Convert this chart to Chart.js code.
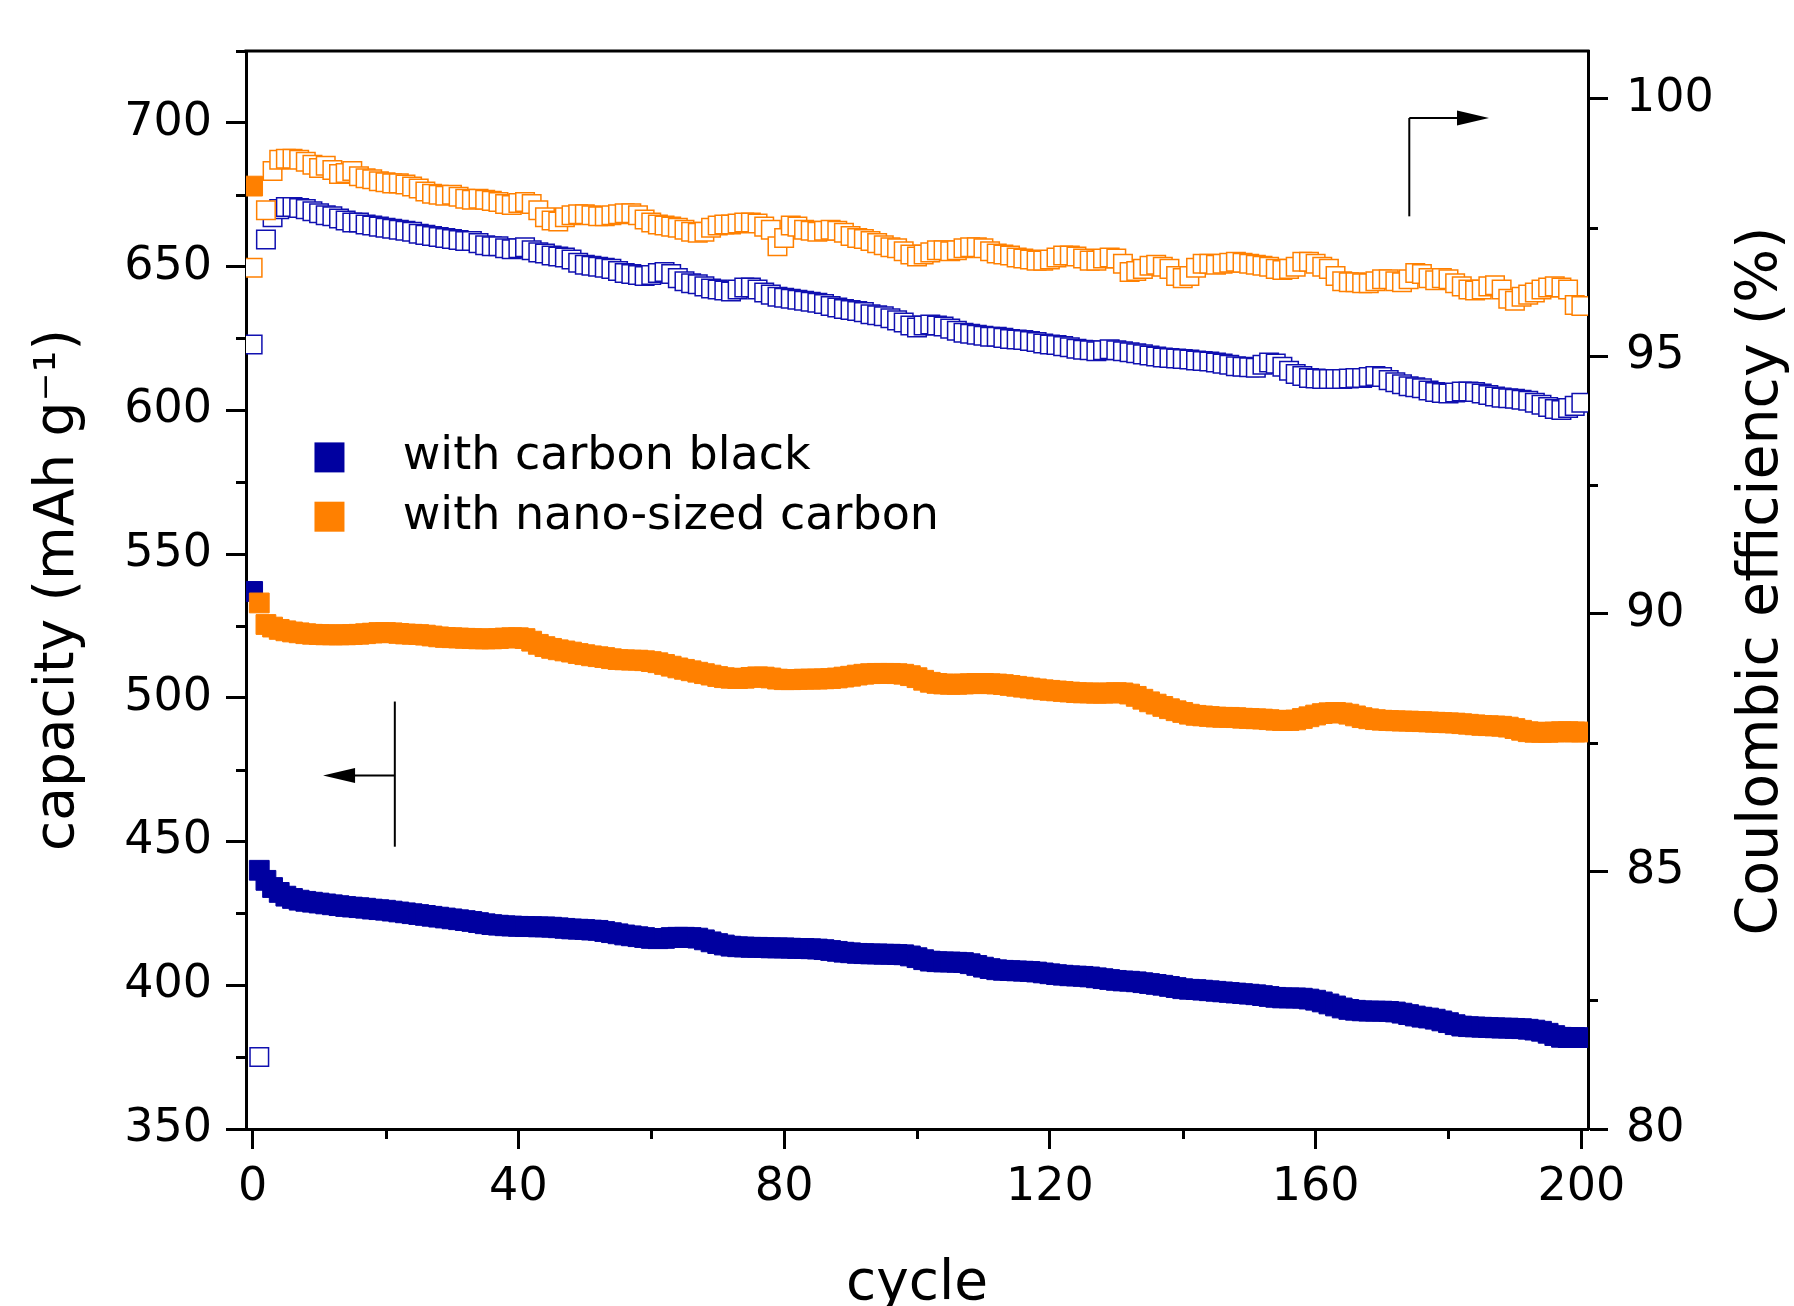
<!DOCTYPE html>
<html>
<head>
<meta charset="utf-8">
<title>capacity and coulombic efficiency vs cycle</title>
<script src="https://cdn.jsdelivr.net/npm/chart.js@4.4.1/dist/chart.umd.min.js"></script>
<style>
  html, body { margin: 0; padding: 0; background: #fff; overflow: hidden; }
  #chart { display: block; }
</style>
</head>
<body>
<canvas id="chart" width="1794" height="1306"></canvas>
<script>
// capacity (mAh/g) per cycle, index = cycle number
const capBlack = [
  537, 440, 436.5, 434, 432.3, 431, 430.2, 429.6, 429.2, 428.9,
  428.6, 428.3, 428, 427.7, 427.4, 427.2, 427, 426.8, 426.5, 426.3,
  426.1, 425.8, 425.5, 425.2, 424.9, 424.6, 424.3, 424, 423.7, 423.4,
  423.1, 422.8, 422.5, 422.2, 421.8, 421.4, 421.1, 420.9, 420.7, 420.6,
  420.5, 420.4, 420.4, 420.3, 420.3, 420.2, 420, 419.8, 419.6, 419.5,
  419.4, 419.2, 419.1, 418.7, 418.3, 417.9, 417.5, 417.2, 416.9, 416.6,
  416.3, 416.2, 416.3, 416.6, 416.7, 416.7, 416.6, 416.4, 415.8, 415.1,
  414.5, 414, 413.6, 413.4, 413.3, 413.2, 413.2, 413.1, 413, 413,
  413, 412.9, 412.8, 412.8, 412.7, 412.6, 412.4, 412.1, 411.8, 411.5,
  411.3, 411.1, 411, 410.9, 410.9, 410.8, 410.8, 410.7, 410.6, 410.2,
  409.6, 408.9, 408.4, 408.2, 408.1, 408.1, 408, 407.9, 407.5, 406.9,
  406.3, 405.8, 405.4, 405.2, 405.1, 405, 404.9, 404.8, 404.6, 404.3,
  404, 403.7, 403.5, 403.3, 403.2, 403.1, 402.9, 402.6, 402.3, 402,
  401.7, 401.5, 401.4, 401.2, 400.9, 400.6, 400.3, 400, 399.6, 399.2,
  398.8, 398.6, 398.5, 398.3, 398.1, 397.9, 397.7, 397.5, 397.3, 397.1,
  396.9, 396.7, 396.4, 396.1, 395.8, 395.6, 395.6, 395.6, 395.5, 395.2,
  394.8, 394.2, 393.5, 392.8, 392.1, 391.6, 391.3, 391.1, 391, 391,
  391, 390.9, 390.7, 390.3, 389.8, 389.3, 388.9, 388.6, 388.2, 387.6,
  387, 386.3, 385.8, 385.6, 385.5, 385.4, 385.3, 385.2, 385.1, 385.1,
  385, 384.9, 384.7, 384.4, 384, 383.3, 382.5, 381.9, 381.8, 381.8,
  381.8
];
const capNano = [
  678, 533, 525.5, 524.6, 523.8, 523.3, 522.9, 522.6, 522.3, 522.1,
  522, 521.9, 521.9, 521.9, 521.9, 522, 522.1, 522.3, 522.5, 522.7,
  522.7, 522.6, 522.4, 522.2, 522.1, 522, 521.8, 521.5, 521.2, 521,
  520.9, 520.8, 520.7, 520.6, 520.5, 520.5, 520.5, 520.6, 520.8, 520.9,
  520.9, 520.6, 519.7, 518.6, 517.8, 517.2, 516.7, 516.3, 515.9, 515.4,
  515, 514.6, 514.3, 514, 513.6, 513.3, 513.2, 513.1, 513.1, 512.9,
  512.6, 512.2, 511.6, 511, 510.4, 509.9, 509.4, 508.9, 508.4, 507.9,
  507.4, 507, 506.8, 506.7, 506.8, 507.1, 507.3, 507.2, 506.9, 506.5,
  506.3, 506.3, 506.4, 506.5, 506.5, 506.5, 506.6, 506.7, 506.9, 507.2,
  507.5, 507.9, 508.2, 508.4, 508.5, 508.5, 508.5, 508.4, 508.2, 507.7,
  507, 506.1, 505.4, 505, 504.8, 504.7, 504.7, 504.8, 504.9, 505,
  505, 504.9, 504.8, 504.6, 504.3, 504, 503.7, 503.4, 503.1, 502.8,
  502.6, 502.4, 502.2, 502, 501.8, 501.7, 501.7, 501.6, 501.6, 501.7,
  501.8, 501.7, 501.3, 500.5, 499.5, 498.6, 497.8, 497, 496.2, 495.5,
  494.9, 494.3, 493.9, 493.7, 493.5, 493.3, 493.2, 493.2, 493.1, 492.9,
  492.8, 492.7, 492.6, 492.4, 492.2, 492.1, 492.1, 492.3, 492.8, 493.4,
  494, 494.5, 494.8, 494.9, 494.7, 494.3, 493.7, 493.1, 492.7, 492.4,
  492.2, 492.1, 492, 491.9, 491.9, 491.8, 491.7, 491.6, 491.5, 491.4,
  491.3, 491.2, 491, 490.8, 490.6, 490.4, 490.3, 490.2, 490.1, 489.8,
  489.3, 488.7, 488.2, 488, 488, 488, 488.1, 488.2, 488.2, 488.1,
  488.1
];

// coulombic efficiency (%) per cycle
const ceBlack = [
  95.23, 81.4, 97.27, 97.7, 97.86, 97.9, 97.9, 97.88, 97.86, 97.82,
  97.78, 97.74, 97.72, 97.68, 97.64, 97.6, 97.6, 97.56, 97.54, 97.52,
  97.5, 97.48, 97.46, 97.44, 97.42, 97.38, 97.36, 97.34, 97.32, 97.3,
  97.28, 97.26, 97.24, 97.24, 97.2, 97.16, 97.14, 97.14, 97.1, 97.08,
  97.1, 97.12, 97.06, 97.02, 97.0, 96.96, 96.94, 96.92, 96.88, 96.82,
  96.78, 96.76, 96.74, 96.72, 96.7, 96.66, 96.62, 96.6, 96.58, 96.56,
  96.58, 96.62, 96.64, 96.6, 96.52, 96.46, 96.42, 96.4, 96.36, 96.32,
  96.3, 96.28, 96.26, 96.3, 96.34, 96.34, 96.3, 96.24, 96.2, 96.16,
  96.14, 96.12, 96.1, 96.08, 96.06, 96.04, 96.02, 95.98, 95.95, 95.92,
  95.9, 95.88, 95.86, 95.82, 95.8, 95.78, 95.74, 95.7, 95.66, 95.6,
  95.56, 95.6, 95.62, 95.6, 95.58, 95.54, 95.5, 95.46, 95.44, 95.42,
  95.4, 95.38, 95.38, 95.36, 95.34, 95.33, 95.32, 95.3, 95.28, 95.25,
  95.23, 95.22, 95.2, 95.18, 95.15, 95.13, 95.12, 95.1, 95.12, 95.14,
  95.12, 95.1, 95.08, 95.06, 95.04, 95.02, 95.0, 94.98, 94.97, 94.96,
  94.95, 94.94, 94.92, 94.91, 94.9, 94.88, 94.86, 94.84, 94.81, 94.8,
  94.79, 94.78, 94.84, 94.88, 94.86, 94.8, 94.72, 94.66, 94.62, 94.58,
  94.57, 94.56, 94.56, 94.56, 94.56, 94.57, 94.58, 94.58, 94.6, 94.62,
  94.6, 94.54, 94.5, 94.46, 94.42, 94.4, 94.38, 94.34, 94.31, 94.29,
  94.28, 94.3, 94.32, 94.32, 94.31, 94.28, 94.25, 94.22, 94.2, 94.19,
  94.18, 94.16, 94.14, 94.1, 94.06, 94.02, 93.98, 93.96, 94.0, 94.04,
  94.1
];
const ceNano = [
  96.72, null, 97.84, 98.6, 98.82, 98.84, 98.84, 98.82, 98.78, 98.72,
  98.66, 98.7, 98.62, 98.54, 98.56, 98.6, 98.5, 98.46, 98.44, 98.4,
  98.38, 98.36, 98.36, 98.34, 98.3, 98.26, 98.2, 98.16, 98.14, 98.12,
  98.14, 98.1, 98.06, 98.04, 98.06, 98.04, 98.02, 98.0, 97.96, 97.94,
  97.98, 98.0, 97.96, 97.84, 97.7, 97.64, 97.62, 97.7, 97.74, 97.76,
  97.76, 97.74, 97.72, 97.72, 97.74, 97.76, 97.78, 97.78, 97.74, 97.66,
  97.6, 97.56, 97.54, 97.52, 97.5, 97.46, 97.42, 97.4, 97.42, 97.5,
  97.54, 97.56, 97.56, 97.58, 97.6, 97.6, 97.58, 97.52, 97.46, 97.14,
  97.3, 97.54, 97.52, 97.46, 97.44, 97.42, 97.44, 97.46, 97.44, 97.4,
  97.34, 97.3, 97.28, 97.24, 97.2, 97.16, 97.12, 97.1, 97.04, 96.98,
  96.94, 96.98, 97.02, 97.06, 97.06, 97.04, 97.06, 97.1, 97.12, 97.12,
  97.1, 97.04, 97.0, 96.98, 96.96, 96.92, 96.9, 96.88, 96.86, 96.86,
  96.88, 96.92, 96.96, 96.96, 96.94, 96.9, 96.86, 96.86, 96.9, 96.92,
  96.9, 96.8, 96.64, 96.66, 96.7, 96.76, 96.78, 96.74, 96.7, 96.56,
  96.52, 96.56, 96.72, 96.8, 96.8, 96.78, 96.8, 96.82, 96.84, 96.82,
  96.8, 96.78, 96.76, 96.74, 96.7, 96.68, 96.7, 96.74, 96.84, 96.84,
  96.8, 96.74, 96.7, 96.56, 96.46, 96.44, 96.44, 96.42, 96.42, 96.46,
  96.5, 96.5, 96.46, 96.44, 96.5, 96.62, 96.6, 96.52, 96.48, 96.52,
  96.5, 96.42, 96.36, 96.3, 96.28, 96.3, 96.36, 96.38, 96.3, 96.12,
  96.08, 96.16, 96.2, 96.24, 96.3, 96.34, 96.36, 96.34, 96.3, 96.0,
  95.98
];

const cycles = capBlack.map((v, i) => i);

const seriesNames = ['with carbon black', 'with nano-sized carbon'];
const seriesColors = ['#0000a0', '#ff8000'];

const xTicks = [0, 40, 80, 120, 160, 200];
const xMinor = [20, 60, 100, 140, 180];
const capTicks = [350, 400, 450, 500, 550, 600, 650, 700];
const capMinor = [375, 425, 475, 525, 575, 625, 675, 725];
const ceTicks = [80, 85, 90, 95, 100];
const ceMinor = [82.5, 87.5, 92.5, 97.5];

// arrows telling which axis a series belongs to (data units)
const capArrow = {x: 21.4, yFrom: 498.7, yTo: 448.2, yHead: 473, xTip: 10.6};
const ceArrow = {x: 174.1, yFrom: 97.72, yTo: 99.63, yHead: 99.63, xTip: 186.1};

const FONT = '"DejaVu Sans", Verdana, sans-serif';

function points(values) {
  return cycles.map((c, i) => ({x: c, y: values[i]}));
}

function drawArrow(ctx, x0, y, x1) {
  const dir = Math.sign(x1 - x0);
  ctx.beginPath();
  ctx.moveTo(x0, y);
  ctx.lineTo(x1 - dir * 28, y);
  ctx.stroke();
  ctx.beginPath();
  ctx.moveTo(x1, y);
  ctx.lineTo(x1 - dir * 32, y - 7.5);
  ctx.lineTo(x1 - dir * 32, y + 7.5);
  ctx.closePath();
  ctx.fill();
}

const extras = {
  id: 'extras',
  afterDraw(chart) {
    const ctx = chart.ctx;
    const a = chart.chartArea;
    const sx = chart.scales.x, sl = chart.scales.y, sr = chart.scales.y2;
    ctx.save();
    ctx.strokeStyle = '#000';
    ctx.fillStyle = '#000';

    // top frame line
    ctx.lineWidth = 3;
    ctx.beginPath();
    ctx.moveTo(a.left - 1.5, a.top);
    ctx.lineTo(a.right + 1.5, a.top);
    ctx.stroke();

    // minor ticks
    ctx.beginPath();
    capMinor.forEach(v => {
      const y = Math.round(sl.getPixelForValue(v)) + 0.5;
      ctx.moveTo(a.left, y); ctx.lineTo(a.left - 10, y);
    });
    ceMinor.forEach(v => {
      const y = Math.round(sr.getPixelForValue(v)) + 0.5;
      ctx.moveTo(a.right, y); ctx.lineTo(a.right + 10, y);
    });
    xMinor.forEach(v => {
      const x = Math.round(sx.getPixelForValue(v)) + 0.5;
      ctx.moveTo(x, a.bottom); ctx.lineTo(x, a.bottom + 10);
    });
    ctx.stroke();

    // axis arrows
    ctx.lineWidth = 2;
    let x = sx.getPixelForValue(capArrow.x);
    ctx.beginPath();
    ctx.moveTo(x, sl.getPixelForValue(capArrow.yFrom));
    ctx.lineTo(x, sl.getPixelForValue(capArrow.yTo));
    ctx.stroke();
    drawArrow(ctx, x, sl.getPixelForValue(capArrow.yHead), sx.getPixelForValue(capArrow.xTip));

    x = sx.getPixelForValue(ceArrow.x);
    ctx.beginPath();
    ctx.moveTo(x, sr.getPixelForValue(ceArrow.yFrom));
    ctx.lineTo(x, sr.getPixelForValue(ceArrow.yTo));
    ctx.stroke();
    drawArrow(ctx, x, sr.getPixelForValue(ceArrow.yHead), sx.getPixelForValue(ceArrow.xTip));

    // legend
    const w = a.right - a.left, h = a.bottom - a.top;
    const rows = [0.377, 0.432];
    ctx.font = '46px ' + FONT;
    ctx.textBaseline = 'middle';
    ctx.textAlign = 'left';
    seriesNames.forEach((name, i) => {
      const cy = a.top + rows[i] * h;
      const cx = a.left + 0.0622 * w;
      ctx.fillStyle = seriesColors[i];
      ctx.fillRect(cx - 15, cy - 15, 30, 30);
      ctx.fillStyle = '#000';
      ctx.fillText(name, a.left + 0.1168 * w, cy);
    });

    // right axis title, reads bottom to top like the left one
    ctx.save();
    ctx.translate(a.right + 174, (a.top + a.bottom) / 2 - 9);
    ctx.rotate(-Math.PI / 2);
    ctx.font = '57px ' + FONT;
    ctx.textAlign = 'center';
    ctx.fillText('Coulombic efficiency (%)', 0, 0);
    ctx.restore();

    ctx.restore();
  }
};

function axisStyle(tickValues, padding) {
  return {
    afterBuildTicks: s => { s.ticks = tickValues.map(v => ({value: v})); },
    grid: {drawOnChartArea: false, drawTicks: true, tickLength: 20, tickWidth: 3, tickColor: '#000'},
    border: {display: true, color: '#000', width: 3},
    ticks: {color: '#000', font: {family: FONT, size: 46}, padding: padding, autoSkip: false, maxRotation: 0}
  };
}

const ctx = document.getElementById('chart').getContext('2d');
new Chart(ctx, {
  type: 'scatter',
  data: {
    datasets: [
      {
        label: seriesNames[1] + ' capacity', data: points(capNano), yAxisID: 'y',
        pointStyle: 'rect', pointRadius: 14, pointBorderWidth: 1,
        pointBackgroundColor: seriesColors[1], pointBorderColor: seriesColors[1]
      },
      {
        label: seriesNames[1] + ' efficiency', data: points(ceNano), yAxisID: 'y2',
        pointStyle: 'rect', pointRadius: 13.1, pointBorderWidth: 1.5,
        pointBackgroundColor: '#ffffff', pointBorderColor: seriesColors[1]
      },
      {
        label: seriesNames[0] + ' capacity', data: points(capBlack), yAxisID: 'y',
        pointStyle: 'rect', pointRadius: 14, pointBorderWidth: 1,
        pointBackgroundColor: seriesColors[0], pointBorderColor: seriesColors[0]
      },
      {
        label: seriesNames[0] + ' efficiency', data: points(ceBlack), yAxisID: 'y2',
        pointStyle: 'rect', pointRadius: 13.1, pointBorderWidth: 1.5,
        pointBackgroundColor: '#ffffff', pointBorderColor: '#1010b0'
      }
    ]
  },
  options: {
    responsive: false,
    animation: false,
    devicePixelRatio: 1,
    events: [],
    layout: {padding: {top: 51, left: 0, right: 0, bottom: 0}},
    plugins: {legend: {display: false}, tooltip: {enabled: false}},
    scales: {
      x: Object.assign(axisStyle(xTicks, 11), {
        type: 'linear', position: 'bottom', min: -1, max: 201,
        afterFit: s => { s.height = 177; },
        title: {display: true, text: 'cycle', color: '#000', font: {family: FONT, size: 55}, padding: {top: 0, bottom: -12}}
      }),
      y: Object.assign(axisStyle(capTicks, 14), {
        type: 'linear', position: 'left', min: 350, max: 725,
        afterFit: s => { s.width = 246; },
        title: {display: true, text: 'capacity (mAh g\u207B\u00B9)', color: '#000', font: {family: FONT, size: 55}, padding: {top: 26, bottom: 0}}
      }),
      y2: Object.assign(axisStyle(ceTicks, 18), {
        type: 'linear', position: 'right', min: 80, max: 100.93,
        afterFit: s => { s.width = 206; }
      })
    }
  },
  plugins: [extras]
});
</script>
</body>
</html>
